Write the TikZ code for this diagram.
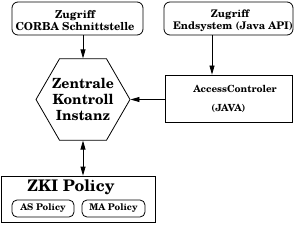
\documentclass[tikz,border=0pt]{standalone}
\usepackage{fontspec}
\setmainfont{TeX Gyre Schola}
\usetikzlibrary{arrows.meta,shapes.geometric}
\begin{document}
\begin{tikzpicture}[x=1pt,y=-1pt,
  font=\bfseries,
  rbox/.style={draw,line width=0.8pt,rounded corners=6pt,inner sep=0pt},
  sbox/.style={draw,line width=0.8pt,inner sep=0pt},
  pill/.style={draw,line width=0.8pt,rounded corners=5pt,inner sep=0pt,font=\bfseries\fontsize{9.2}{10}\selectfont},
  txt/.style={inner sep=0pt,align=center},
  arr/.style={-{Triangle[length=9pt,width=5pt]},line width=0.8pt},
  darr/.style={{Triangle[length=9pt,width=5pt]}-{Triangle[length=9pt,width=5pt]},line width=0.8pt}]
\useasboundingbox (0,0) rectangle (296,224);
% boxes
\node[rbox,minimum width=131pt,minimum height=33pt] (b1) at (77.5,18.5) {};
\node[txt,font=\bfseries\fontsize{11}{11.5}\selectfont] (t1) at (75,20.5) {Zugriff\\CORBA Schnittstelle};
\node[rbox,minimum width=129pt,minimum height=33pt] (b2) at (228.5,18.5) {};
\node[txt,font=\bfseries\fontsize{10.5}{11.5}\selectfont] (t2) at (230,20.5) {Zugriff\\\hspace*{6pt}Endsystem (Java API)};
\node[regular polygon,regular polygon sides=6,draw,line width=0.8pt,minimum size=94pt,inner sep=0pt] (hex) at (83,99.5) {};
\node[txt,font=\bfseries\fontsize{14}{16}\selectfont] (th) at (83,99.5) {Zentrale\\Kontroll\\Instanz};
\node[sbox,minimum width=127pt,minimum height=47pt] (b3) at (228.5,98.5) {};
\node[txt,font=\bfseries\fontsize{9.8}{10}\selectfont] (t3a) at (235,89) {AccessControler};
\node[txt,font=\bfseries\fontsize{9.8}{10}\selectfont] (t3b) at (228.5,108.5) {(JAVA)};
\node[sbox,minimum width=154pt,minimum height=46pt] (zki) at (78,199) {};
\node[txt,font=\bfseries\fontsize{16}{17}\selectfont] (tz) at (71,187) {ZKI Policy};
\node[pill,minimum width=62pt,minimum height=17pt] (as) at (43,208.5) {AS Policy};
\node[pill,minimum width=63pt,minimum height=17pt] (ma) at (113.5,208.5) {MA Policy};
% connectors
\draw[arr] (b1.south -| hex.north) -- (hex.north);
\coordinate (p2) at (212,0);
\draw[arr] (b2.south -| p2) -- (b3.north -| p2);
\draw[arr] (b3.west |- hex.east) -- (hex.east);
\draw[darr] (hex.south) -- (zki.north -| hex.south);
\end{tikzpicture}
\end{document}
